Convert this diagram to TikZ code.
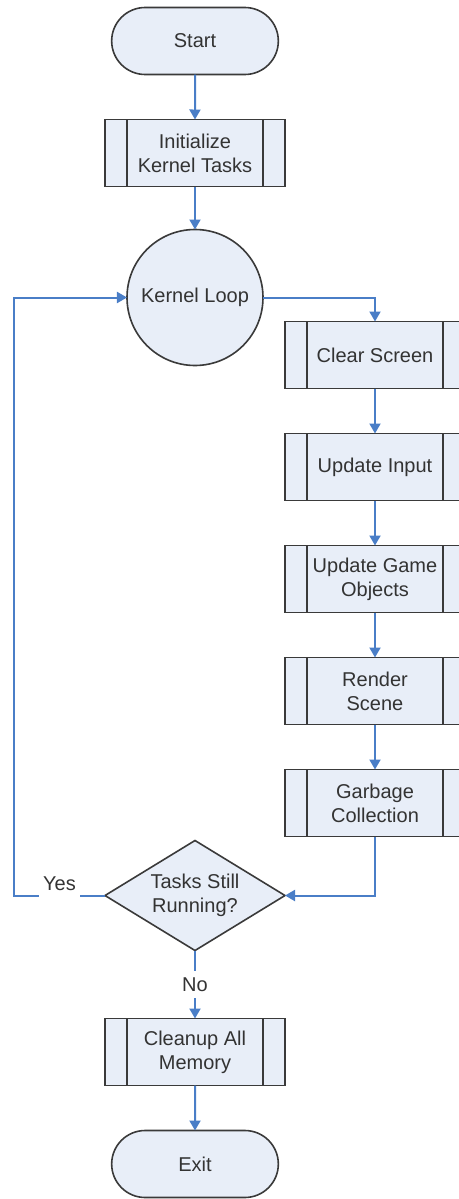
\documentclass[tikz,border=0pt]{standalone}
\usepackage{fontspec}
\setmainfont{Liberation Sans}
\usepackage{tikz}
\usetikzlibrary{arrows.meta,positioning,shapes.geometric,shapes.misc}
\definecolor{boxfill}{HTML}{E8EEF8}
\definecolor{edge}{HTML}{3A3A3A}
\definecolor{link}{HTML}{4A7EC7}
\tikzset{
  base/.style={draw=edge, line width=0.8pt, fill=boxfill, align=center, outer sep=0pt,
    font=\fontsize{10}{12}\selectfont, text=black!80},
  term/.style={base, rounded rectangle, minimum width=90pt, minimum height=33.5pt},
  proc/.style={base, rectangle, minimum width=90pt, minimum height=33.5pt, inner sep=0pt,
    path picture={\draw[edge, line width=0.8pt]
      ([xshift=11pt]path picture bounding box.north west) -- ([xshift=11pt]path picture bounding box.south west)
      ([xshift=-11pt]path picture bounding box.north east) -- ([xshift=-11pt]path picture bounding box.south east);}},
  loopnode/.style={base, circle, minimum size=68pt, inner sep=0pt},
  dec/.style={base, diamond, aspect=1.64, minimum width=90pt, minimum height=55pt, inner sep=0pt},
  flow/.style={-{Triangle[length=5pt,width=5.5pt]}, draw=link, line width=1pt},
  lbl/.style={font=\fontsize{10}{12}\selectfont, text=black!80, fill=white, inner xsep=2pt, inner ysep=3.5pt},
}
\begin{document}
\begin{tikzpicture}[node distance=22.5pt]
\useasboundingbox (-97.5pt,20.5pt) rectangle (132pt,-579pt);
\node[term] (start) at (0,0) {Start};
\node[proc, below=of start] (init) {Initialize\\Kernel Tasks};
\node[loopnode, below=21.5pt of init] (loop) {Kernel Loop};
\node[proc, below right=12pt and 11pt of loop.east] (clear) {Clear Screen};
\node[proc, below=of clear] (input) {Update Input};
\node[proc, below=of input] (objects) {Update Game\\Objects};
\node[proc, below=of objects] (render) {Render\\Scene};
\node[proc, below=of render] (garbage) {Garbage\\Collection};
\node[dec, anchor=north, yshift=-2pt] (running) at (loop |- garbage.south) {Tasks Still\\Running?};
\node[proc, below=34pt of running] (cleanup) {Cleanup All\\Memory};
\node[term, below=of cleanup] (exit) {Exit};
\coordinate (back) at ([xshift=-45.5pt]running.west);

\draw[flow] (start) -- (init);
\draw[flow] (init) -- (loop);
\draw[flow] (loop.east) -| (clear.north);
\draw[flow] (clear) -- (input);
\draw[flow] (input) -- (objects);
\draw[flow] (objects) -- (render);
\draw[flow] (render) -- (garbage);
\draw[flow] (garbage.south) |- (running.east);
\draw[flow] (running.west) -- node[lbl, anchor=base, yshift=2.5pt]{Yes} (back) |- (loop.west);
\draw[flow] (running.south) -- node[lbl]{No} (cleanup);
\draw[flow] (cleanup) -- (exit);
\end{tikzpicture}
\end{document}
